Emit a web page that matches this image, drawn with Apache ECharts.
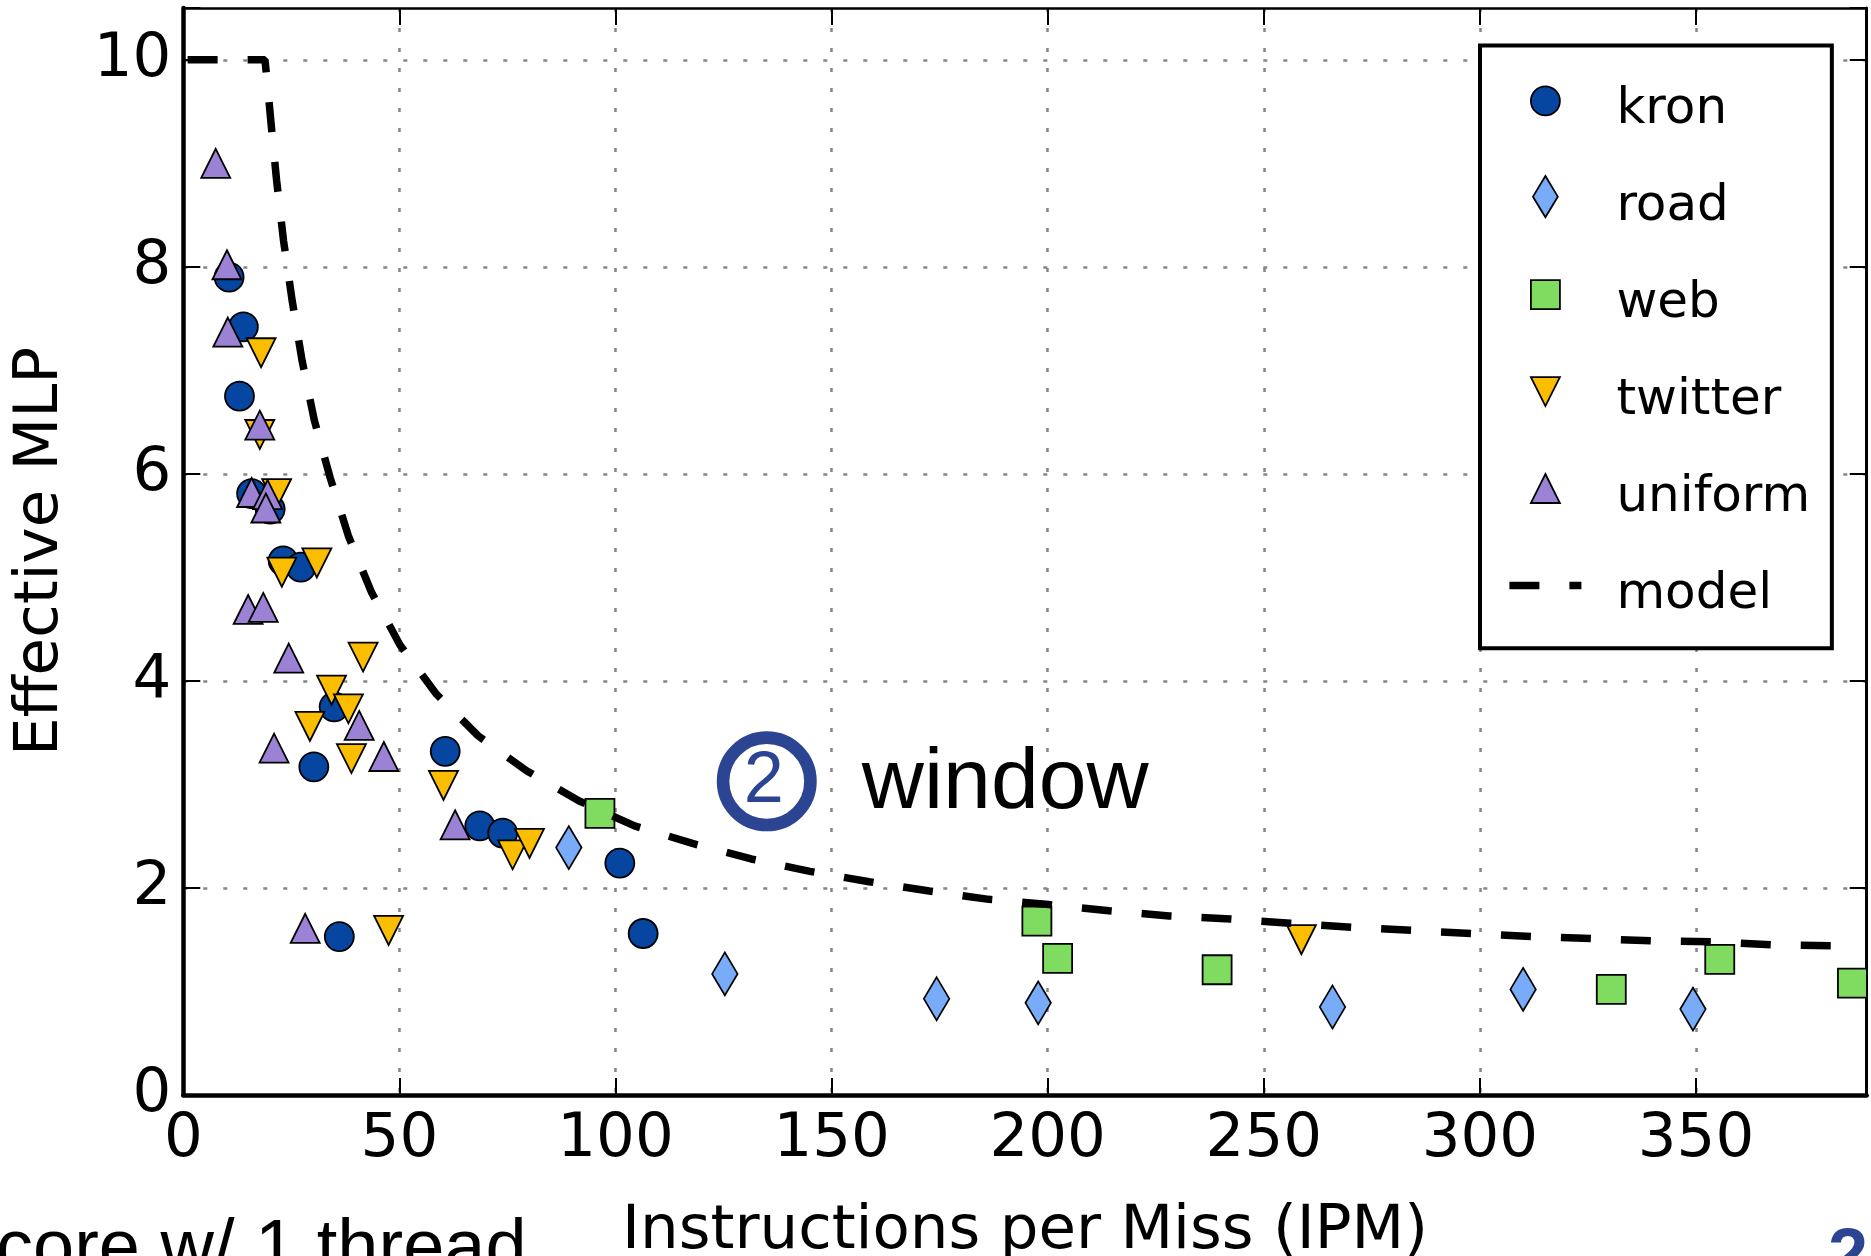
<!DOCTYPE html>
<html>
<head>
<meta charset="utf-8">
<script src="https://cdn.jsdelivr.net/npm/echarts@6/dist/echarts.min.js"></script>
<style>
  html, body { margin: 0; padding: 0; background: #ffffff; }
  #chart { width: 1871px; height: 1256px; }
</style>
</head>
<body>
<div id="chart"></div>
<script>
// Effective memory-level parallelism per graph input, plotted against instructions per miss.
const kron = [[10.6,7.9],[13.9,7.42],[13.0,6.75],[15.8,5.81],[20.1,5.66],[23.1,5.16],[27.2,5.10],[34.9,3.75],[30.2,3.17],[60.6,3.32],[36.1,1.53],[68.6,2.60],[73.9,2.53],[101.0,2.24],[106.4,1.56]];
const road = [[89.2,2.39],[125.3,1.17],[174.3,0.93],[197.8,0.89],[265.9,0.85],[310.0,1.02],[349.3,0.83]];
const web = [[96.4,2.72],[197.5,1.68],[202.3,1.32],[239.2,1.21],[330.4,1.02],[355.5,1.31],[386.2,1.08]];
const twitter = [[18.0,7.17],[17.7,6.38],[21.6,5.81],[22.8,5.05],[30.9,5.14],[41.6,4.23],[34.3,3.91],[38.2,3.73],[29.3,3.56],[38.9,3.25],[60.2,2.99],[76.2,2.32],[80.1,2.43],[47.5,1.59],[258.7,1.50]];
const uniform = [[7.5,9.0],[10.1,8.02],[10.3,7.37],[17.7,6.47],[15.8,5.82],[19.5,5.80],[19.1,5.67],[15.0,4.69],[18.5,4.71],[24.4,4.22],[40.7,3.57],[21.0,3.35],[46.4,3.27],[62.9,2.61],[28.2,1.61]];
const model = [[1,10],[18.9,10],[19.6,9.7],[20.5,9.3],[21.6,8.83],[23.2,8.25],[25.2,7.67],[27.5,7.09],[30.3,6.52],[34.0,5.96],[38.2,5.40],[43.5,4.86],[50.1,4.35],[58.4,3.88],[68.2,3.47],[79.5,3.13],[91.6,2.84],[104.4,2.60],[117.8,2.43],[131.4,2.28],[145.0,2.16],[158.7,2.06],[172.6,1.97],[186.4,1.89],[200.2,1.84],[214.2,1.78],[228.1,1.73],[242.3,1.70],[256.1,1.66],[270.3,1.62],[284.2,1.59],[298.2,1.56],[312.3,1.53],[326.2,1.51],[340.1,1.49],[354.3,1.48],[368.3,1.45],[386.0,1.44]];

const xTicks = [0, 50, 100, 150, 200, 250, 300, 350];
const yTicks = [0, 2, 4, 6, 8, 10];
const xRange = [0, 389.5];
const yRange = [0, 10.5];

const FONT = 'DejaVu Sans';
const SLIDE_FONT = 'Liberation Sans';
const ACCENT = '#2b4592';

const colors = { kron: '#0646a1', road: '#78abf8', web: '#80dc60', twitter: '#fabd00', uniform: '#9c82d4' };

// marker outlines used on the plot
const SYM_DIAMOND = 'path://M0,-1L0.6,0L0,1L-0.6,0Z';
const SYM_DOWN = 'path://M-1,-1L1,-1L0,1Z';

// legend icons: same outlines, drawn inside a fixed 72x46 frame (shape sits slightly below its middle)
const FRAME = ' M-36,-26.6 M36,19.4';
const ICON_CIRCLE = 'path://M-14.5,0A14.5,14.5,0,1,1,14.5,0A14.5,14.5,0,1,1,-14.5,0Z' + FRAME;
const ICON_DIAMOND = 'path://M0,-21.5L13,0L0,21.5L-13,0Z' + FRAME;
const ICON_SQUARE = 'path://M-14.5,-14.5L14.5,-14.5L14.5,14.5L-14.5,14.5Z' + FRAME;
const ICON_DOWN = 'path://M-14.5,-14.5L14.5,-14.5L0,14.5Z' + FRAME;
const ICON_UP = 'path://M0,-14.5L14.5,14.5L-14.5,14.5Z' + FRAME;
// dashed stroke sample: 30 on, 30 off, 12 on
const ICON_DASH = 'path://M-36,-3.75L-6,-3.75L-6,3.75L-36,3.75Z M24,-3.75L36,-3.75L36,3.75L24,3.75Z' + FRAME;

const edge = { borderColor: '#000000', borderWidth: 1.8 };

function scatter(name, data, symbol, size) {
  return {
    name, type: 'scatter', data, symbol, symbolSize: size, clip: true,
    itemStyle: Object.assign({ color: colors[name], opacity: 1 }, edge),
    emphasis: { disabled: true }, z: 2
  };
}

const gridLine = { color: '#858585', width: 2.5, type: [4, 16] };
const tickStyle = { color: '#000000', width: 2 };

const chart = echarts.init(document.getElementById('chart'), null, { renderer: 'canvas' });

const option = {
  animation: false,
  backgroundColor: '#ffffff',
  grid: { left: 183.3, right: 4.3, top: 8, bottom: 161, containLabel: false, outerBoundsMode: 'none' },
  xAxis: [
    {
      type: 'value', position: 'bottom', min: xRange[0], max: xRange[1], interval: 50,
      axisLine: { show: true, onZero: false, lineStyle: { color: '#000', width: 4.5 } },
      axisTick: { show: true, inside: true, length: 17, lineStyle: tickStyle },
      axisLabel: {
        show: true, margin: 15, fontSize: 61, fontFamily: FONT, color: '#000', hideOverlap: false,
        formatter: v => (xTicks.indexOf(v) >= 0 ? String(v) : '')
      },
      splitLine: { show: true, showMinLine: true, showMaxLine: false, lineStyle: gridLine },
      name: 'Instructions per Miss (IPM)', nameLocation: 'middle', nameGap: 107, nameMoveOverlap: false,
      nameTextStyle: { fontSize: 61, fontFamily: FONT, color: '#000' }
    },
    {
      type: 'value', position: 'top', min: xRange[0], max: xRange[1], interval: 50,
      axisLine: { show: true, onZero: false, lineStyle: { color: '#000', width: 2.5 } },
      axisTick: { show: true, inside: true, length: 17, lineStyle: tickStyle },
      axisLabel: { show: false }, splitLine: { show: false }
    }
  ],
  yAxis: [
    {
      type: 'value', position: 'left', min: yRange[0], max: yRange[1], interval: 2,
      axisLine: { show: true, onZero: false, lineStyle: { color: '#000', width: 4.5 } },
      axisTick: { show: true, inside: true, length: 17, lineStyle: tickStyle },
      axisLabel: {
        show: true, margin: 12, fontSize: 61, fontFamily: FONT, color: '#000', hideOverlap: false,
        padding: [0, 0, 10, 0],
        formatter: v => (yTicks.indexOf(v) >= 0 ? String(v) : '')
      },
      splitLine: { show: true, showMinLine: true, showMaxLine: false, lineStyle: gridLine },
      name: 'Effective MLP', nameLocation: 'middle', nameRotate: 90, nameGap: 112, nameMoveOverlap: false,
      nameTextStyle: { fontSize: 61, fontFamily: FONT, color: '#000' }
    },
    {
      type: 'value', position: 'right', min: yRange[0], max: yRange[1], interval: 2,
      axisLine: { show: true, onZero: false, lineStyle: { color: '#000', width: 3 } },
      axisTick: { show: true, inside: true, length: 17, lineStyle: tickStyle },
      axisLabel: { show: false }, splitLine: { show: false }
    }
  ],
  legend: {
    show: true, orient: 'vertical', left: 1480, top: 45.5, selectedMode: false,
    itemWidth: 72, itemHeight: 46, itemGap: 20.9,
    padding: [13.8, 21.6, 28.5, 28.5],
    backgroundColor: '#ffffff', borderColor: '#000000', borderWidth: 4, borderRadius: 0,
    formatter: name => '{t|' + name + '}',
    textStyle: {
      fontSize: 50, fontFamily: FONT, color: '#000',
      rich: { t: { fontSize: 50, fontFamily: FONT, color: '#000', lineHeight: 46, padding: [26, 0, 0, 30] } }
    },
    data: [
      { name: 'kron', icon: ICON_CIRCLE, itemStyle: Object.assign({ color: colors.kron }, edge) },
      { name: 'road', icon: ICON_DIAMOND, itemStyle: Object.assign({ color: colors.road }, edge) },
      { name: 'web', icon: ICON_SQUARE, itemStyle: Object.assign({ color: colors.web }, edge) },
      { name: 'twitter', icon: ICON_DOWN, itemStyle: Object.assign({ color: colors.twitter }, edge) },
      { name: 'uniform', icon: ICON_UP, itemStyle: Object.assign({ color: colors.uniform }, edge) },
      { name: 'model', icon: ICON_DASH, itemStyle: { color: '#000000', borderWidth: 0 } }
    ],
    z: 20
  },
  series: [
    scatter('kron', kron, 'circle', 29),
    scatter('road', road, SYM_DIAMOND, [25.5, 43]),
    scatter('web', web, 'rect', 29),
    scatter('twitter', twitter, SYM_DOWN, 29),
    scatter('uniform', uniform, 'triangle', 29),
    {
      name: 'model', type: 'line', data: model, showSymbol: false, symbol: 'none', clip: true,
      itemStyle: { color: '#000000' },
      lineStyle: { color: '#000000', width: 7.5, type: [30, 30], cap: 'butt' },
      emphasis: { disabled: true }, z: 5
    }
  ]
};

chart.setOption(option);

// annotation placed in data space
const toPx = p => chart.convertToPixel({ xAxisIndex: 0, yAxisIndex: 0 }, p);
const ring = toPx([135.0, 3.03]);
const label = toPx([157.0, 3.0]);

chart.setOption({
  graphic: [
    { type: 'circle', z: 100, shape: { cx: ring[0], cy: ring[1], r: 43.7 },
      style: { fill: 'none', stroke: ACCENT, lineWidth: 12.6 } },
    { type: 'text', z: 100, x: ring[0] - 3, y: ring[1] + 1,
      style: { text: '2', fill: ACCENT, fontSize: 72, fontFamily: SLIDE_FONT, align: 'center', verticalAlign: 'middle' } },
    { type: 'text', z: 100, x: label[0], y: label[1],
      style: { text: 'window', fill: '#000', fontSize: 86, fontFamily: SLIDE_FONT, align: 'left', verticalAlign: 'middle' } },
    { type: 'text', z: 100, x: -4, y: 1250.7,
      style: { text: 'core w/ 1 thread', fill: '#000', fontSize: 74, fontFamily: SLIDE_FONT, align: 'left', verticalAlign: 'middle' } },
    { type: 'text', z: 100, x: 1828, y: 1259,
      style: { text: '2', fill: ACCENT, fontSize: 72, fontWeight: 'bold', fontFamily: SLIDE_FONT, align: 'left', verticalAlign: 'middle' } }
  ]
});
</script>
</body>
</html>
